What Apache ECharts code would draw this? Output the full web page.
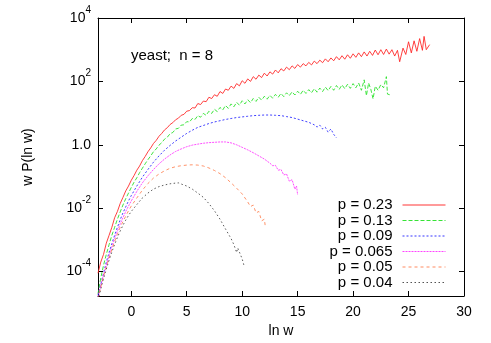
<!DOCTYPE html>
<html>
<head>
<meta charset="utf-8">
<script src="https://cdn.jsdelivr.net/npm/echarts@6/dist/echarts.min.js"></script>
<style>html,body{margin:0;padding:0;background:#fff;}#c{width:491px;height:343px;}</style>
</head>
<body>
<div id="c"></div>
<script>
const seriesNames = ['p = 0.23', 'p = 0.13', 'p = 0.09', 'p = 0.065', 'p = 0.05', 'p = 0.04'];
const xTicks = [0, 5, 10, 15, 20, 25, 30];
const yTicks = [1e-4, 1e-2, 1, 1e2, 1e4];
const annotation = 'yeast;  n = 8';

const redData = [[-3,8.9e-5],[-2.75,2.0e-4],[-2.5,3.5e-4],[-2.25,7.9e-4],[-2,1.4e-3],[-1.75,2.5e-3],[-1.5,5.0e-3],[-1.25,7.9e-3],[-1,1.4e-2],[-0.75,2.2e-2],[-0.5,3.5e-2],[-0.25,5.0e-2],[0,7.6e-2],[0.25,0.107],[0.5,0.158],[0.75,0.214],[1,0.316],[1.25,0.427],[1.5,0.603],[1.75,0.794],[2,1.10],[2.25,1.38],[2.5,1.86],[2.75,2.29],[3,2.95],[3.25,3.47],[3.5,4.37],[3.75,5.01],[4,6.17],[4.25,6.92],[4.5,8.51],[4.75,9.12],[5,11.5],[5.25,12.0],[5.5,14.8],[5.75,14.5],[6,20.0],[6.25,18.6],[6.5,24.0],[6.75,22.9],[7,31.6],[7.25,28.8],[7.5,38.0],[7.75,33.9],[8,47.9],[8.25,41.7],[8.5,57.5],[8.75,52.5],[9,70.8],[9.25,60.3],[9.5,85.1],[9.75,72.4],[10,105],[10.25,87.1],[10.5,120],[10.75,100],[11,141],[11.25,117],[11.5,158],[11.75,132],[12,182],[12.25,148],[12.5,200],[12.75,170],[13,229],[13.25,186],[13.5,251],[13.75,214],[14,282],[14.25,234],[14.5,309],[14.75,257],[15,339],[15.25,282],[15.5,363],[15.75,309],[16,398],[16.25,331],[16.5,437],[16.75,363],[17,468],[17.25,389],[17.5,513],[17.75,417],[18,550],[18.25,447],[18.5,603],[18.75,479],[19,646],[19.25,501],[19.5,692],[19.75,537],[20,741],[20.25,575],[20.5,794],[20.75,603],[21,851],[21.25,631],[21.5,891],[21.75,661],[22,977],[22.25,692],[22.5,1000],[22.75,708],[23,1047],[23.25,724],[23.5,1000],[23.75,631],[24,955],[24.2,417],[24.5,1122],[24.75,708],[25,1778],[25.25,794],[25.5,1905],[25.75,891],[26,2239],[26.25,955],[26.4,2630],[26.6,1000],[26.9,1445]];

const greenData = [[-3,2.0e-5],[-2.75,6.3e-5],[-2.5,1.6e-4],[-2.25,3.5e-4],[-2,7.1e-4],[-1.75,1.4e-3],[-1.5,2.5e-3],[-1.25,4.5e-3],[-1,7.6e-3],[-0.75,1.26e-2],[-0.5,2.0e-2],[-0.25,3.0e-2],[0,4.5e-2],[0.25,6.6e-2],[0.5,9.1e-2],[0.75,0.132],[1,0.182],[1.25,0.251],[1.5,0.339],[1.75,0.447],[2,0.603],[2.25,0.741],[2.5,0.977],[2.75,1.17],[3,1.51],[3.25,1.74],[3.5,2.24],[3.75,2.45],[4,3.16],[4.25,3.31],[4.5,4.17],[4.75,4.27],[5,5.37],[5.25,5.25],[5.5,6.76],[5.75,6.31],[6,8.32],[6.25,7.41],[6.5,9.77],[6.75,8.51],[7,11.5],[7.25,9.77],[7.5,13.2],[7.75,11.2],[8,15.1],[8.25,12.6],[8.5,17.4],[8.75,14.1],[9,19.5],[9.25,15.8],[9.5,21.9],[9.75,17.8],[10,24.5],[10.25,19.5],[10.5,26.3],[10.75,21.4],[11,28.8],[11.25,23.4],[11.5,31.6],[11.75,25.7],[12,33.9],[12.25,27.5],[12.5,36.3],[12.75,29.5],[13,38.9],[13.25,31.6],[13.5,41.7],[13.75,33.1],[14,43.7],[14.25,35.5],[14.5,46.8],[14.75,37.2],[15,49.0],[15.25,38.9],[15.5,52.5],[15.75,41.7],[16,55.0],[16.25,43.7],[16.5,58.9],[16.75,45.7],[17,61.7],[17.25,47.9],[17.5,66.1],[17.75,51.3],[18,69.2],[18.25,52.5],[18.5,74.1],[18.75,56.2],[19,77.6],[19.25,58.9],[19.5,81.3],[19.75,60.3],[20,85.1],[20.25,63.1],[20.5,89.1],[20.75,52.5],[21,112],[21.2,35.5],[21.4,89.1],[21.6,56.2],[21.8,28.2],[22,70.8],[22.25,52.5],[22.5,79.4],[22.75,63.1],[23,141],[23.1,39.8],[23.3,38.0]];

const blueData = [[-3,1.8e-5],[-2.75,4.0e-5],[-2.5,8.9e-5],[-2.25,2.0e-4],[-2,4.0e-4],[-1.75,7.6e-4],[-1.5,1.4e-3],[-1.25,2.5e-3],[-1,4.3e-3],[-0.75,7.1e-3],[-0.5,1.1e-2],[-0.25,1.7e-2],[0,2.5e-2],[0.5,5.0e-2],[1,9.5e-2],[1.5,0.166],[2,0.282],[2.5,0.447],[3,0.676],[3.5,0.955],[4,1.32],[4.5,1.74],[5,2.29],[5.5,2.88],[6,3.55],[6.5,4.07],[7,4.68],[7.5,5.25],[8,5.75],[8.5,6.31],[9,6.76],[9.5,7.24],[10,7.59],[10.5,7.94],[11,8.32],[11.5,8.51],[12,8.71],[12.5,8.71],[13,8.51],[13.5,8.32],[14,7.76],[14.5,7.24],[15,6.46],[15.5,5.75],[16,5.13],[16.5,4.27],[16.75,3.63],[17,4.17],[17.25,3.16],[17.5,3.55],[17.75,2.51],[18,3.16],[18.25,2.14],[18.4,2.40],[18.5,1.66]];

const magentaData = [[-3,1.6e-5],[-2.75,3.5e-5],[-2.5,7.9e-5],[-2.25,1.6e-4],[-2,3.2e-4],[-1.75,6.0e-4],[-1.5,1.1e-3],[-1.25,1.9e-3],[-1,3.2e-3],[-0.75,5.0e-3],[-0.5,7.9e-3],[-0.25,1.17e-2],[0,1.7e-2],[0.5,3.4e-2],[1,6.3e-2],[1.5,0.105],[2,0.166],[2.5,0.251],[3,0.355],[3.5,0.479],[4,0.617],[4.5,0.741],[5,0.871],[5.5,0.977],[6,1.05],[6.5,1.12],[7,1.17],[7.5,1.20],[8,1.23],[8.5,1.23],[9,1.15],[9.5,1.0],[10,0.832],[10.5,0.692],[11,0.562],[11.5,0.447],[12,0.355],[12.5,0.263],[12.75,0.219],[13,0.224],[13.25,0.158],[13.5,0.166],[13.75,0.112],[14,0.12],[14.25,0.0708],[14.5,0.0794],[14.75,0.0398],[14.9,0.0501],[15,0.0263]];

const orangeData = [[-3,1.4e-5],[-2.75,3.2e-5],[-2.5,7.1e-5],[-2.25,1.4e-4],[-2,2.7e-4],[-1.75,5.0e-4],[-1.5,8.9e-4],[-1.25,1.5e-3],[-1,2.5e-3],[-0.75,3.8e-3],[-0.5,5.6e-3],[-0.25,8.3e-3],[0,1.17e-2],[0.5,2.1e-2],[1,3.7e-2],[1.5,6.0e-2],[2,8.9e-2],[2.5,0.12],[3,0.151],[3.5,0.182],[4,0.204],[4.5,0.219],[5,0.229],[5.5,0.234],[6,0.229],[6.5,0.214],[7,0.186],[7.5,0.155],[8,0.123],[8.5,0.0912],[9,0.0631],[9.5,0.0427],[10,0.0282],[10.5,0.0158],[10.75,0.0112],[11,0.0126],[11.25,7.1e-3],[11.5,7.9e-3],[11.75,4.0e-3],[12,4.5e-3],[12.1,2.4e-3]];

const blackData = [[-3,1.26e-5],[-2.75,2.8e-5],[-2.5,6.0e-5],[-2.25,1.2e-4],[-2,2.3e-4],[-1.75,4.2e-4],[-1.5,7.2e-4],[-1.25,1.2e-3],[-1,1.9e-3],[-0.75,2.9e-3],[-0.5,4.2e-3],[-0.25,5.9e-3],[0,7.9e-3],[0.5,1.3e-2],[1,2.1e-2],[1.5,3.0e-2],[2,4.0e-2],[2.5,4.8e-2],[3,5.4e-2],[3.5,5.9e-2],[4,6.2e-2],[4.25,6.3e-2],[4.5,5.8e-2],[5,5.0e-2],[5.5,4.0e-2],[6,3.0e-2],[6.5,2.2e-2],[7,1.4e-2],[7.5,8.3e-3],[8,4.5e-3],[8.5,2.2e-3],[9,1.1e-3],[9.25,7.1e-4],[9.5,4.0e-4],[9.6,5.6e-4],[9.75,5.0e-4],[10,2.5e-4],[10.2,1.4e-4]];

const allData = [redData, greenData, blueData, magentaData, orangeData, blackData];
const colors = ['#ff2020', '#20e020', '#2020ff', '#ff30ff', '#ff8050', '#404040'];
const dashes = ['solid', [4, 2], [2, 2], [2, 1], [3, 3], [1.5, 2.5]];

const FONT = '"Liberation Sans", Arial, sans-serif';
const X_MIN = -3, X_MAX = 30, Y_MIN = 1.7e-5, Y_MAX = 1e4;

const chart = echarts.init(document.getElementById('c'), null, {renderer: 'canvas'});

const series = seriesNames.map((n, i) => ({
  name: n,
  type: 'line',
  xAxisIndex: 0,
  yAxisIndex: 0,
  data: allData[i],
  symbol: 'none',
  showSymbol: false,
  smooth: false,
  clip: true,
  color: colors[i],
  lineStyle: {width: 1, color: colors[i], type: dashes[i], opacity: 0.85},
  emphasis: {disabled: true},
  animation: false
}));

const legendTops = [197.5, 213, 228.5, 244, 259.5, 275];
const legends = seriesNames.map((n, i) => ({
  data: [{name: n, lineStyle: {color: colors[i], type: dashes[i], width: 1, opacity: 0.9}}],
  right: 45,
  top: legendTops[i],
  orient: 'vertical',
  align: 'right',
  padding: 0,
  itemWidth: 43,
  itemHeight: 14,
  selectedMode: false,
  itemStyle: {opacity: 0},
  lineStyle: {width: 1},
  textStyle: {fontFamily: FONT, fontSize: 15, color: '#000', padding: [0, 5, 0, 0]}
}));

const yFormatter = v => {
  if (Math.abs(v - 1) < 1e-9) return '{b|1.0}';
  const e = Math.round(Math.log10(v));
  return '{b|10}{s|' + e + '}';
};

const frameLine = {show: true, onZero: false, lineStyle: {color: '#000', width: 1}};

const option = {
  animation: false,
  backgroundColor: '#fff',
  textStyle: {fontFamily: FONT},
  title: {
    text: annotation,
    left: 131, top: 48, padding: 0,
    textStyle: {fontFamily: FONT, fontSize: 15, fontWeight: 'normal', color: '#000'}
  },
  legend: legends,
  grid: {left: 98, top: 18, width: 366, height: 278, containLabel: false},
  xAxis: [{
    type: 'value', position: 'bottom', min: X_MIN, max: X_MAX,
    name: 'ln w', nameLocation: 'middle', nameGap: 18,
    nameTextStyle: {fontFamily: FONT, fontSize: 14, color: '#000'},
    axisLine: frameLine,
    axisTick: {show: true, inside: true, length: 5, customValues: xTicks, lineStyle: {color: '#000'}},
    axisLabel: {show: true, customValues: xTicks, margin: 9, fontFamily: FONT, fontSize: 14, color: '#000'},
    splitLine: {show: false}
  }, {
    type: 'value', position: 'top', min: X_MIN, max: X_MAX,
    axisLine: frameLine,
    axisTick: {show: true, inside: true, length: 5, customValues: xTicks, lineStyle: {color: '#000'}},
    axisLabel: {show: false},
    splitLine: {show: false}
  }],
  yAxis: [{
    type: 'log', logBase: 10, position: 'left', min: Y_MIN, max: Y_MAX,
    name: 'w P(ln w)', nameLocation: 'middle', nameRotate: 90, nameGap: 63,
    nameTextStyle: {fontFamily: FONT, fontSize: 14, color: '#000'},
    axisLine: frameLine,
    axisTick: {show: true, inside: true, length: 5, customValues: yTicks, lineStyle: {color: '#000'}},
    axisLabel: {
      show: true, customValues: yTicks, margin: 7, formatter: yFormatter,
      rich: {
        b: {fontFamily: FONT, fontSize: 14, color: '#000', verticalAlign: 'bottom', lineHeight: 14},
        s: {fontFamily: FONT, fontSize: 10, color: '#000', verticalAlign: 'bottom', lineHeight: 10, padding: [0, 0, 10, 0]}
      }
    },
    splitLine: {show: false}
  }, {
    type: 'log', logBase: 10, position: 'right', min: Y_MIN, max: Y_MAX,
    axisLine: frameLine,
    axisTick: {show: true, inside: true, length: 5, customValues: yTicks, lineStyle: {color: '#000'}},
    axisLabel: {show: false},
    splitLine: {show: false}
  }],
  series: series
};
chart.setOption(option);
</script>
</body>
</html>
